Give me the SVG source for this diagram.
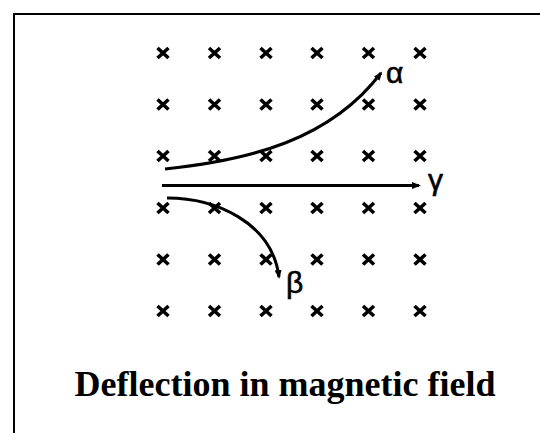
<svg xmlns="http://www.w3.org/2000/svg" width="540" height="433" viewBox="0 0 540 433">
  <defs>
    <style>
      .cross { stroke: #000; stroke-width: 3.6; stroke-linecap: butt; fill: none; }
      .path { stroke: #000; stroke-width: 3; fill: none; }
      .greek { font-family: "Liberation Sans", Arial, sans-serif; font-size: 30px; fill: #000; stroke: #000; stroke-width: 0.6; }
      .title { font-family: "Liberation Serif", "Times New Roman", serif; font-weight: bold; font-size: 36px; fill: #000; }
    </style>
    <marker id="ah" markerUnits="userSpaceOnUse" markerWidth="10" markerHeight="8" refX="7" refY="4" orient="auto">
      <path d="M0,0.5 L9,4 L0,7.5 z" fill="#000"/>
    </marker>
    <path id="x" class="cross" d="M-5.5,-5 L5.5,5 M-5.5,5 L5.5,-5"/>
  </defs>
  <rect x="14" y="14" width="540" height="430" fill="#fff" stroke="#000" stroke-width="2"/>
  <g id="field">
    <use href="#x" x="163" y="53"/><use href="#x" x="214.5" y="53"/><use href="#x" x="266" y="53"/><use href="#x" x="317" y="53"/><use href="#x" x="368.5" y="53"/><use href="#x" x="420" y="53"/>
    <use href="#x" x="163" y="104.5"/><use href="#x" x="214.5" y="104.5"/><use href="#x" x="266" y="104.5"/><use href="#x" x="317" y="104.5"/><use href="#x" x="368.5" y="104.5"/><use href="#x" x="420" y="104.5"/>
    <use href="#x" x="163" y="156"/><use href="#x" x="214.5" y="156"/><use href="#x" x="266" y="156"/><use href="#x" x="317" y="156"/><use href="#x" x="368.5" y="156"/><use href="#x" x="420" y="156"/>
    <use href="#x" x="163" y="208"/><use href="#x" x="214.5" y="208"/><use href="#x" x="266" y="208"/><use href="#x" x="317" y="208"/><use href="#x" x="368.5" y="208"/><use href="#x" x="420" y="208"/>
    <use href="#x" x="163" y="259.5"/><use href="#x" x="214.5" y="259.5"/><use href="#x" x="266" y="259.5"/><use href="#x" x="317" y="259.5"/><use href="#x" x="368.5" y="259.5"/><use href="#x" x="420" y="259.5"/>
    <use href="#x" x="163" y="311"/><use href="#x" x="214.5" y="311"/><use href="#x" x="266" y="311"/><use href="#x" x="317" y="311"/><use href="#x" x="368.5" y="311"/><use href="#x" x="420" y="311"/>
  </g>
  <g id="connectors">
    <path id="alpha-path" class="path" d="M165,169 C250,160 330,140 381,73" marker-end="url(#ah)"/>
    <path id="gamma-path" class="path" d="M162,185.5 L419,185.5" marker-end="url(#ah)"/>
    <path id="beta-path" class="path" d="M167,198 C215,198 272,222 279,277" marker-end="url(#ah)"/>
  </g>
  <g id="labels">
    <text class="greek" x="386" y="83">α</text>
    <text class="greek" x="428" y="190">γ</text>
    <text class="greek" x="286" y="293">β</text>
  </g>
  <g id="caption">
    <text class="title" x="285" y="396" text-anchor="middle">Deflection in magnetic field</text>
  </g>
</svg>
